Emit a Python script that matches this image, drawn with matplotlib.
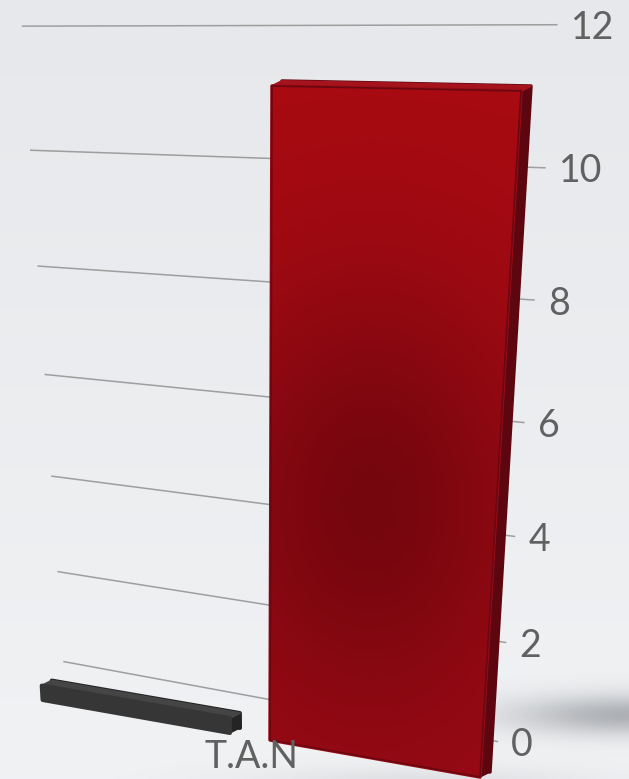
import numpy
import matplotlib
matplotlib.use("Agg")
import matplotlib.pyplot as plt
import matplotlib.transforms as mtransforms
from matplotlib.patches import Polygon

# ---- data ----
categories = ['T.A.N']
series_values = [[0.3], [11.2]]
tick_values = [0, 2, 4, 6, 8, 10, 12]
tick_labels = ['0', '2', '4', '6', '8', '10', '12']

# ---- perspective calibration (pixel space of the 629x779 picture) ----
# wall: gridline ends for x=0 (far left) and x=1 (at the value axis), one per tick value
WALL_LEFT = [(63, 660), (57, 572), (51, 477), (45, 375), (38, 267), (30, 150), (22, 25)]
WALL_RIGHT = [(498, 742), (507, 643), (515, 536), (525, 422), (535, 300), (545, 168), (557, 25)]
# front plane of the bars: (category x, value) -> pixel
FRONT_SRC = [(0.04, 0.0), (0.46, 0.0), (0.46, 11.2), (0.04, 11.2)]
FRONT_DST = [(270, 740), (480, 777), (521, 91), (272, 86)]
DEPTH_SHIFT = (10, -5)

W, H = 629, 779
series_offsets = [-0.255, 0.25]
bar_width = 0.42


def Fit_Homography(src, dst):
	rows = []
	for (x, y), (u, v) in zip(src, dst):
		rows.append([-x, -y, -1, 0, 0, 0, u * x, u * y, u])
		rows.append([0, 0, 0, -x, -y, -1, v * x, v * y, v])
	_, _, vt = numpy.linalg.svd(numpy.array(rows, dtype=float))
	h = vt[-1].reshape(3, 3)
	return h / h[2, 2]


def Project(h, pts):
	pts = numpy.asarray(pts, dtype=float)
	p = numpy.column_stack([pts, numpy.ones(len(pts))]) @ h.T
	return p[:, :2] / p[:, 2:3]


class Perspective(mtransforms.Transform):
	input_dims = 2
	output_dims = 2
	is_separable = False
	has_inverse = False

	def __init__(self, h):
		super().__init__()
		self.h = h

	def transform_non_affine(self, values):
		return Project(self.h, numpy.reshape(values, (-1, 2)))


def Rect_Corners(rect):
	x0 = rect.get_x()
	x1 = x0 + rect.get_width()
	return Project(H_front, [(x0, 0), (x1, 0), (x1, rect.get_height()), (x0, rect.get_height())])


wall_src = [(0, v) for v in tick_values] + [(1, v) for v in tick_values]
H_wall = Fit_Homography(wall_src, WALL_LEFT + WALL_RIGHT)
H_front = Fit_Homography(FRONT_SRC, FRONT_DST)

fig = plt.figure(figsize=(W / 100, H / 100), dpi=100)
ax = fig.add_axes([0, 0, 1, 1])
ax.set_xlim(0, W)
ax.set_ylim(H, 0)
ax.axis('off')

# background
g = numpy.linspace(0, 1, 256)[:, None, None]
top_bg = numpy.array([0.902, 0.910, 0.922])
bot_bg = numpy.array([0.945, 0.949, 0.957])
bg = top_bg * (1 - g) + bot_bg * g
ax.imshow(bg, extent=(0, W, H, 0), aspect='auto', zorder=0)

wall = Perspective(H_wall) + ax.transData
front = Perspective(H_front) + ax.transData
back = Perspective(H_front) + mtransforms.Affine2D().translate(*DEPTH_SHIFT) + ax.transData

# floor shadow next to the big bar
big = numpy.argmax([max(v) for v in series_values])
bx = numpy.arange(len(categories)) + series_offsets[big]
br = Project(H_front, [(bx[0] + bar_width / 2, 0)])[0]
yy, xx = numpy.mgrid[0:H:2, 0:W:2]
shade = 0.42 * numpy.exp(-((xx - (br[0] + 150)) / 120.0) ** 2 - ((yy - (br[1] - 62)) / 20.0) ** 2)
shade += 0.12 * numpy.exp(-((xx - (br[0] - 60)) / 170.0) ** 2 - ((yy - (br[1] + 8)) / 18.0) ** 2)
shadow = numpy.zeros(shade.shape + (4,))
shadow[..., :3] = [0.32, 0.34, 0.37]
shadow[..., 3] = numpy.clip(shade, 0, 1)
ax.imshow(shadow, extent=(0, W, H, 0), aspect='auto', zorder=1)

# gridlines on the wall
ax.hlines(tick_values, 0, 1, transform=wall, colors='#9e9e9e', linewidth=1.1, zorder=2)

label_font = dict(family=['Lato', 'DejaVu Sans'], fontweight='normal', color='#616161', fontsize=27)
label_shift = mtransforms.ScaledTranslation(0.13, 0, fig.dpi_scale_trans)
for v, lab in zip(tick_values, tick_labels):
	ax.text(1, v, lab, transform=wall + label_shift, ha='left', va='center_baseline', zorder=3, **label_font)

front_colors = ['#363636', '#9a0d16']
side_colors = ['#242424', '#5e0610']
top_colors = ['#454545', '#a5141d']
edge_widths = [3.0, 2.5]

for i, values in enumerate(series_values):
	x = numpy.arange(len(categories)) + series_offsets[i]
	z = 4 + 3 * i
	ax.bar(x, values, bar_width, transform=back, color=side_colors[i], edgecolor=side_colors[i],
		linewidth=edge_widths[i], joinstyle='round', zorder=z)
	for xc, val in zip(x, values):
		x0, x1 = xc - bar_width / 2, xc + bar_width / 2
		pf = Project(H_front, [(x0, 0), (x1, 0), (x1, val), (x0, val)])
		pb = pf + numpy.array(DEPTH_SHIFT)
		ax.add_patch(Polygon([pf[1], pf[2], pb[2], pb[1]], closed=True, facecolor=side_colors[i],
			edgecolor=side_colors[i], linewidth=1, joinstyle='round', zorder=z + 0.5))
		ax.add_patch(Polygon([pf[3], pf[2], pb[2], pb[3]], closed=True, facecolor=top_colors[i],
			edgecolor=top_colors[i], linewidth=1.5, joinstyle='round', zorder=z + 0.5))
	fronts = ax.bar(x, values, bar_width, transform=front, color=front_colors[i], edgecolor=front_colors[i],
		linewidth=edge_widths[i], joinstyle='round', zorder=z + 1)

	if i == big:
		# shading on the big red face
		for rect in fronts:
			pf = Rect_Corners(rect)
			xmin, ymin = pf.min(axis=0)
			xmax, ymax = pf.max(axis=0)
			t = numpy.linspace(0, 1, 300)[:, None]
			s = numpy.linspace(0, 1, 200)[None, :]
			c_top = numpy.array([0.66, 0.04, 0.07])
			c_bot = numpy.array([0.60, 0.04, 0.08])
			c_dark = numpy.array([0.42, 0.02, 0.05])
			base = c_top * (1 - t[..., None]) + c_bot * t[..., None]
			dark = 0.8 * numpy.exp(-((t - 0.6) / 0.3) ** 2) * numpy.exp(-((s - 0.4) / 0.6) ** 2)
			img = base * (1 - dark[..., None]) + c_dark * dark[..., None]
			im = ax.imshow(img, extent=(xmin, xmax, ymax, ymin), aspect='auto', zorder=z + 1.2)
			clip = Polygon(pf, closed=True, transform=ax.transData)
			im.set_clip_path(clip)
			ax.add_patch(Polygon(pf, closed=True, facecolor='none', edgecolor='#6a0710', linewidth=1.2,
				joinstyle='round', zorder=z + 1.4))

# category label under the group
cat_shift = mtransforms.ScaledTranslation(0, -0.02, fig.dpi_scale_trans)
for j, cat in enumerate(categories):
	ax.text(j, 0, cat, transform=front + cat_shift, ha='center', va='top', zorder=10, **label_font)

fig.savefig('out.png', dpi=100)
